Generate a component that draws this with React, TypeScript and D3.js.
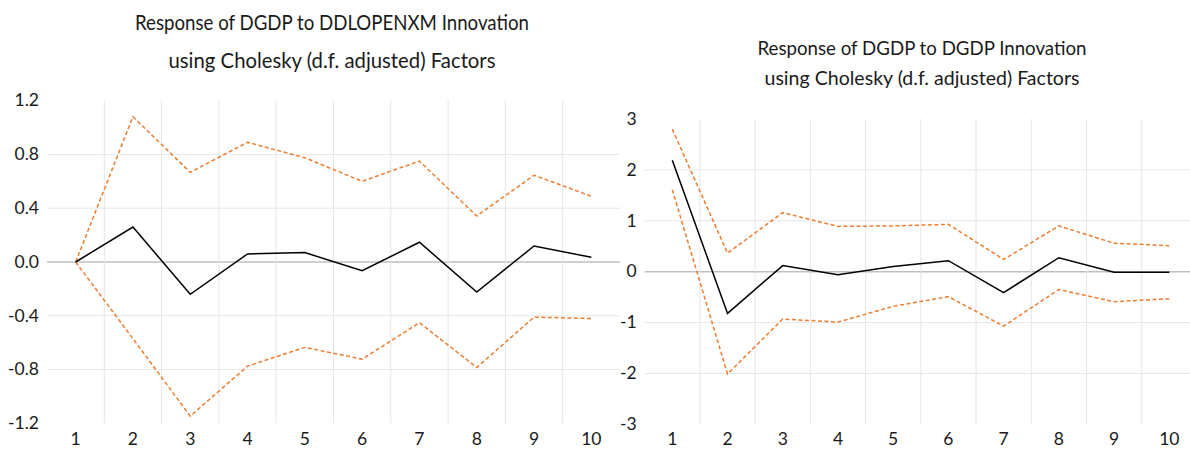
import * as d3 from "d3";

const periods = ["1", "2", "3", "4", "5", "6", "7", "8", "9", "10"];

// Response of DGDP to DDLOPENXM
const leftResponse = [0, 0.26, -0.24, 0.06, 0.07, -0.065, 0.147, -0.223, 0.119, 0.035];
const leftUpper = [0, 1.08, 0.667, 0.89, 0.775, 0.6, 0.75, 0.342, 0.645, 0.489];
const leftLower = [0, -0.57, -1.146, -0.774, -0.635, -0.722, -0.452, -0.784, -0.41, -0.42];
const leftTicks = [-1.2, -0.8, -0.4, 0, 0.4, 0.8, 1.2];

// Response of DGDP to DGDP
const rightResponse = [2.19, -0.82, 0.12, -0.06, 0.1, 0.216, -0.41, 0.275, -0.01, -0.01];
const rightUpper = [2.8, 0.365, 1.16, 0.89, 0.9, 0.93, 0.24, 0.9, 0.56, 0.51];
const rightLower = [1.61, -2.01, -0.93, -0.99, -0.68, -0.49, -1.07, -0.35, -0.59, -0.53];
const rightTicks = [-3, -2, -1, 0, 1, 2, 3];

const FONT = "Lato, 'Open Sans', sans-serif";
const ORANGE = "#ED7D31";

interface PanelProps {
  title: [string, string];
  titleX: number;
  titleY: [number, number];
  titleSize: number;
  titleWidth: [number, number];
  response: number[];
  upper: number[];
  lower: number[];
  ticks: number[];
  fmt: (v: number) => string;
  x0: number;
  x1: number;
  yTop: number;
  yBottom: number;
}

function Panel(p: PanelProps) {
  const x = d3.scaleBand<string>().domain(periods).range([p.x0, p.x1]).paddingInner(0).paddingOuter(0);
  const y = d3
    .scaleLinear()
    .domain([p.ticks[0], p.ticks[p.ticks.length - 1]])
    .range([p.yBottom, p.yTop]);
  const cx = (i: number) => (x(periods[i]) as number) + x.bandwidth() / 2;
  const line = d3
    .line<number>()
    .x((_, i) => cx(i))
    .y((d) => y(d));

  return (
    <g>
      {p.title.map((t, i) => (
        <text
          key={"title" + i}
          x={p.titleX - p.titleWidth[i] / 2}
          y={p.titleY[i]}
          textLength={p.titleWidth[i]}
          lengthAdjust="spacingAndGlyphs"
          fontFamily={FONT}
          fontSize={p.titleSize}
          fill="#1a1a1a"
        >
          {t}
        </text>
      ))}

      {/* horizontal gridlines, no line at the outer ticks */}
      {p.ticks.slice(1, -1).map((t) => (
        <line
          key={"h" + t}
          x1={p.x0}
          x2={p.x1}
          y1={y(t)}
          y2={y(t)}
          stroke={t === 0 ? "#bfbfbf" : "#e6e6e6"}
          strokeWidth={t === 0 ? 1.5 : 1}
        />
      ))}
      {/* vertical gridlines between periods */}
      {periods.slice(1).map((d) => (
        <line
          key={"v" + d}
          x1={x(d)}
          x2={x(d)}
          y1={p.yTop}
          y2={p.yBottom}
          stroke="#e6e6e6"
          strokeWidth={1}
        />
      ))}

      {p.ticks.map((t) => (
        <text
          key={"yt" + t}
          x={p.x0 - 8}
          y={y(t)}
          dy="0.33em"
          textAnchor="end"
          fontFamily={FONT}
          fontSize={17.5}
          fill="#1a1a1a"
        >
          {p.fmt(t)}
        </text>
      ))}
      {periods.map((d, i) => (
        <text
          key={"xt" + d}
          x={cx(i)}
          y={445}
          textAnchor="middle"
          fontFamily={FONT}
          fontSize={17.5}
          fill="#1a1a1a"
        >
          {d}
        </text>
      ))}

      <path d={line(p.upper) ?? ""} fill="none" stroke={ORANGE} strokeWidth={1.5} strokeDasharray="4 2.5" />
      <path d={line(p.lower) ?? ""} fill="none" stroke={ORANGE} strokeWidth={1.5} strokeDasharray="4 2.5" />
      <path d={line(p.response) ?? ""} fill="none" stroke="#000" strokeWidth={1.5} />
    </g>
  );
}

export default function App() {
  const subtitle = "using Cholesky (d.f. adjusted) Factors";
  return (
    <svg
      width={1190}
      height={449}
      style={{ position: "absolute", left: 0, top: 0, background: "#fff", display: "block" }}
    >
      <rect width={1190} height={449} fill="#fff" />
      <Panel
        title={["Response of DGDP to DDLOPENXM Innovation", subtitle]}
        titleX={332}
        titleY={[30, 68]}
        titleSize={20.5}
        titleWidth={[394, 327]}
        response={leftResponse}
        upper={leftUpper}
        lower={leftLower}
        ticks={leftTicks}
        fmt={(v) => v.toFixed(1)}
        x0={47}
        x1={620}
        yTop={100.6}
        yBottom={423.4}
      />
      <Panel
        title={["Response of DGDP to DGDP Innovation", subtitle]}
        titleX={922}
        titleY={[55, 85]}
        titleSize={20}
        titleWidth={[329, 315]}
        response={rightResponse}
        upper={rightUpper}
        lower={rightLower}
        ticks={rightTicks}
        fmt={(v) => String(v)}
        x0={644.7}
        x1={1196.9}
        yTop={119}
        yBottom={424.4}
      />
    </svg>
  );
}
